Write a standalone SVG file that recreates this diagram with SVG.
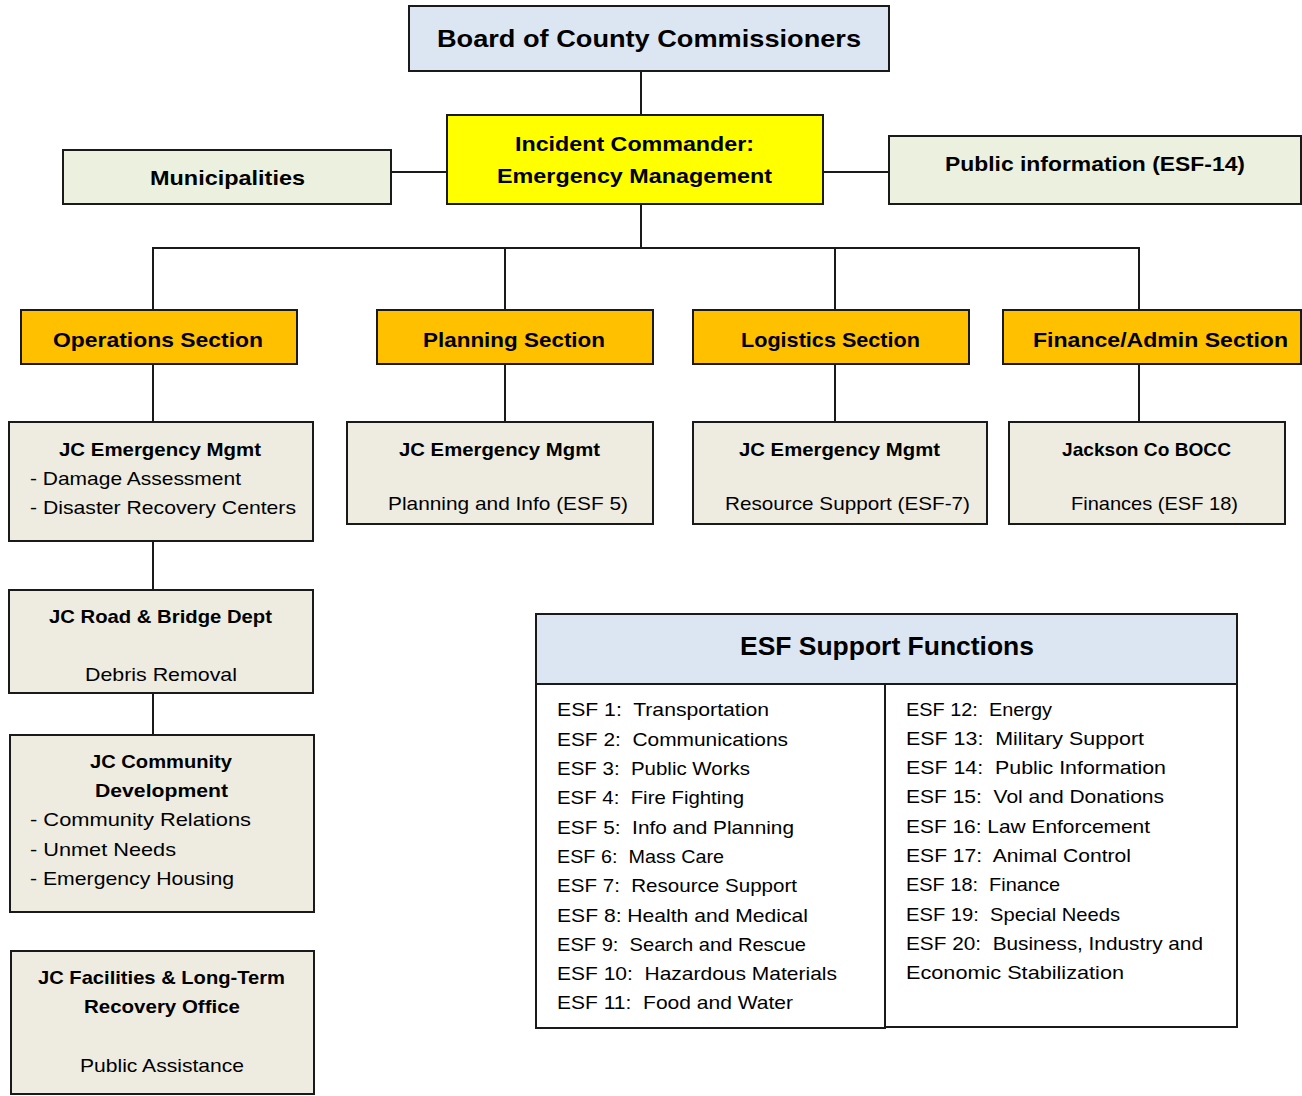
<svg xmlns="http://www.w3.org/2000/svg" width="1302" height="1096" viewBox="0 0 1302 1096">
<style>
  text { font-family: "Liberation Sans", Arial, sans-serif; fill: #000; white-space: pre; }
  .b { font-weight: bold; }
  .t26 { font-size: 24.5px; }
  .t22 { font-size: 21px; }
  .t20 { font-size: 19px; }
  .t28 { font-size: 25.5px; }
  .box { stroke: #1a1a1a; stroke-width: 2; }
  .blue { fill: #dce6f2; }
  .yellow { fill: #ffff00; }
  .green { fill: #ebf1de; }
  .orange { fill: #ffc000; }
  .tan { fill: #eeece1; }
  .white { fill: #ffffff; }
  .conn line { stroke: #1a1a1a; stroke-width: 2; }
</style>
<rect x="0" y="0" width="1302" height="1096" fill="#ffffff"/>
<g class="conn" id="connectors">
  <line x1="641" y1="71" x2="641" y2="115"/>
  <line x1="641" y1="204" x2="641" y2="248"/>
  <line x1="391" y1="172" x2="447" y2="172"/>
  <line x1="823" y1="172" x2="889" y2="172"/>
  <line x1="152" y1="248" x2="1140" y2="248"/>
  <line x1="153" y1="248" x2="153" y2="310"/>
  <line x1="505" y1="248" x2="505" y2="310"/>
  <line x1="835" y1="248" x2="835" y2="310"/>
  <line x1="1139" y1="248" x2="1139" y2="310"/>
  <line x1="153" y1="364" x2="153" y2="422"/>
  <line x1="505" y1="364" x2="505" y2="422"/>
  <line x1="835" y1="364" x2="835" y2="422"/>
  <line x1="1139" y1="364" x2="1139" y2="422"/>
  <line x1="153" y1="541" x2="153" y2="590"/>
  <line x1="153" y1="693" x2="153" y2="735"/>
</g>
<g id="board">
  <rect class="box blue" x="409" y="6" width="480" height="65"/>
  <text class="b t26" x="437" y="47" textLength="424" lengthAdjust="spacingAndGlyphs">Board of County Commissioners</text>
</g>
<g id="incident-commander">
  <rect class="box yellow" x="447" y="115" width="376" height="89"/>
  <text class="b t22" x="515" y="151" textLength="239" lengthAdjust="spacingAndGlyphs">Incident Commander:</text>
  <text class="b t22" x="497" y="183" textLength="275" lengthAdjust="spacingAndGlyphs">Emergency Management</text>
</g>
<g id="municipalities">
  <rect class="box green" x="63" y="150" width="328" height="54"/>
  <text class="b t22" x="150" y="185" textLength="155" lengthAdjust="spacingAndGlyphs">Municipalities</text>
</g>
<g id="public-info">
  <rect class="box green" x="889" y="136" width="412" height="68"/>
  <text class="b t22" x="945" y="171" textLength="300" lengthAdjust="spacingAndGlyphs">Public information (ESF-14)</text>
</g>
<g id="operations">
  <rect class="box orange" x="21" y="310" width="276" height="54"/>
  <text class="b t22" x="53" y="347" textLength="210" lengthAdjust="spacingAndGlyphs">Operations Section</text>
</g>
<g id="planning">
  <rect class="box orange" x="377" y="310" width="276" height="54"/>
  <text class="b t22" x="423" y="347" textLength="182" lengthAdjust="spacingAndGlyphs">Planning Section</text>
</g>
<g id="logistics">
  <rect class="box orange" x="693" y="310" width="276" height="54"/>
  <text class="b t22" x="741" y="347" textLength="179" lengthAdjust="spacingAndGlyphs">Logistics Section</text>
</g>
<g id="finance">
  <rect class="box orange" x="1003" y="310" width="298" height="54"/>
  <text class="b t22" x="1033" y="347" textLength="255" lengthAdjust="spacingAndGlyphs">Finance/Admin Section</text>
</g>
<g id="ops-jcem">
  <rect class="box tan" x="9" y="422" width="304" height="119"/>
  <text class="b t20" x="59" y="456" textLength="202" lengthAdjust="spacingAndGlyphs">JC Emergency Mgmt</text>
  <text class="t20" x="30" y="485" textLength="211" lengthAdjust="spacingAndGlyphs">- Damage Assessment</text>
  <text class="t20" x="30" y="514" textLength="266" lengthAdjust="spacingAndGlyphs">- Disaster Recovery Centers</text>
</g>
<g id="plan-jcem">
  <rect class="box tan" x="347" y="422" width="306" height="102"/>
  <text class="b t20" x="399" y="456" textLength="201" lengthAdjust="spacingAndGlyphs">JC Emergency Mgmt</text>
  <text class="t20" x="388" y="510" textLength="240" lengthAdjust="spacingAndGlyphs">Planning and Info (ESF 5)</text>
</g>
<g id="log-jcem">
  <rect class="box tan" x="693" y="422" width="294" height="102"/>
  <text class="b t20" x="739" y="456" textLength="201" lengthAdjust="spacingAndGlyphs">JC Emergency Mgmt</text>
  <text class="t20" x="725" y="510" textLength="245" lengthAdjust="spacingAndGlyphs">Resource Support (ESF-7)</text>
</g>
<g id="fin-bocc">
  <rect class="box tan" x="1009" y="422" width="276" height="102"/>
  <text class="b t20" x="1062" y="456" textLength="169" lengthAdjust="spacingAndGlyphs">Jackson Co BOCC</text>
  <text class="t20" x="1071" y="510" textLength="167" lengthAdjust="spacingAndGlyphs">Finances (ESF 18)</text>
</g>
<g id="road-bridge">
  <rect class="box tan" x="9" y="590" width="304" height="103"/>
  <text class="b t20" x="49" y="623" textLength="223" lengthAdjust="spacingAndGlyphs">JC Road &amp; Bridge Dept</text>
  <text class="t20" x="85" y="681" textLength="152" lengthAdjust="spacingAndGlyphs">Debris Removal</text>
</g>
<g id="community-dev">
  <rect class="box tan" x="10" y="735" width="304" height="177"/>
  <text class="b t20" x="90" y="768" textLength="142" lengthAdjust="spacingAndGlyphs">JC Community</text>
  <text class="b t20" x="95" y="797" textLength="133" lengthAdjust="spacingAndGlyphs">Development</text>
  <text class="t20" x="30" y="826" textLength="221" lengthAdjust="spacingAndGlyphs">- Community Relations</text>
  <text class="t20" x="30" y="856" textLength="146" lengthAdjust="spacingAndGlyphs">- Unmet Needs</text>
  <text class="t20" x="30" y="885" textLength="204" lengthAdjust="spacingAndGlyphs">- Emergency Housing</text>
</g>
<g id="facilities">
  <rect class="box tan" x="11" y="951" width="303" height="143"/>
  <text class="b t20" x="38" y="984" textLength="247" lengthAdjust="spacingAndGlyphs">JC Facilities &amp; Long-Term</text>
  <text class="b t20" x="84" y="1013" textLength="156" lengthAdjust="spacingAndGlyphs">Recovery Office</text>
  <text class="t20" x="80" y="1072" textLength="164" lengthAdjust="spacingAndGlyphs">Public Assistance</text>
</g>
<g id="esf-table">
  <rect class="box white" x="536" y="684" width="349" height="344"/>
  <rect class="box white" x="885" y="684" width="352" height="343"/>
  <rect class="box blue" x="536" y="614" width="701" height="70"/>
  <text class="b t28" x="740" y="655" textLength="294" lengthAdjust="spacingAndGlyphs">ESF Support Functions</text>
  <text class="t20" x="557" y="716" textLength="212" lengthAdjust="spacingAndGlyphs">ESF 1:  Transportation</text>
  <text class="t20" x="557" y="746" textLength="231" lengthAdjust="spacingAndGlyphs">ESF 2:  Communications</text>
  <text class="t20" x="557" y="775" textLength="193" lengthAdjust="spacingAndGlyphs">ESF 3:  Public Works</text>
  <text class="t20" x="557" y="804" textLength="187" lengthAdjust="spacingAndGlyphs">ESF 4:  Fire Fighting</text>
  <text class="t20" x="557" y="834" textLength="237" lengthAdjust="spacingAndGlyphs">ESF 5:  Info and Planning</text>
  <text class="t20" x="557" y="863" textLength="167" lengthAdjust="spacingAndGlyphs">ESF 6:  Mass Care</text>
  <text class="t20" x="557" y="892" textLength="240" lengthAdjust="spacingAndGlyphs">ESF 7:  Resource Support</text>
  <text class="t20" x="557" y="922" textLength="251" lengthAdjust="spacingAndGlyphs">ESF 8: Health and Medical</text>
  <text class="t20" x="557" y="951" textLength="249" lengthAdjust="spacingAndGlyphs">ESF 9:  Search and Rescue</text>
  <text class="t20" x="557" y="980" textLength="280" lengthAdjust="spacingAndGlyphs">ESF 10:  Hazardous Materials</text>
  <text class="t20" x="557" y="1009" textLength="236" lengthAdjust="spacingAndGlyphs">ESF 11:  Food and Water</text>
  <text class="t20" x="906" y="716" textLength="146" lengthAdjust="spacingAndGlyphs">ESF 12:  Energy</text>
  <text class="t20" x="906" y="745" textLength="238" lengthAdjust="spacingAndGlyphs">ESF 13:  Military Support</text>
  <text class="t20" x="906" y="774" textLength="260" lengthAdjust="spacingAndGlyphs">ESF 14:  Public Information</text>
  <text class="t20" x="906" y="803" textLength="258" lengthAdjust="spacingAndGlyphs">ESF 15:  Vol and Donations</text>
  <text class="t20" x="906" y="833" textLength="244" lengthAdjust="spacingAndGlyphs">ESF 16: Law Enforcement</text>
  <text class="t20" x="906" y="862" textLength="225" lengthAdjust="spacingAndGlyphs">ESF 17:  Animal Control</text>
  <text class="t20" x="906" y="891" textLength="154" lengthAdjust="spacingAndGlyphs">ESF 18:  Finance</text>
  <text class="t20" x="906" y="921" textLength="214" lengthAdjust="spacingAndGlyphs">ESF 19:  Special Needs</text>
  <text class="t20" x="906" y="950" textLength="297" lengthAdjust="spacingAndGlyphs">ESF 20:  Business, Industry and</text>
  <text class="t20" x="906" y="979" textLength="218" lengthAdjust="spacingAndGlyphs">Economic Stabilization</text>
</g>
</svg>
